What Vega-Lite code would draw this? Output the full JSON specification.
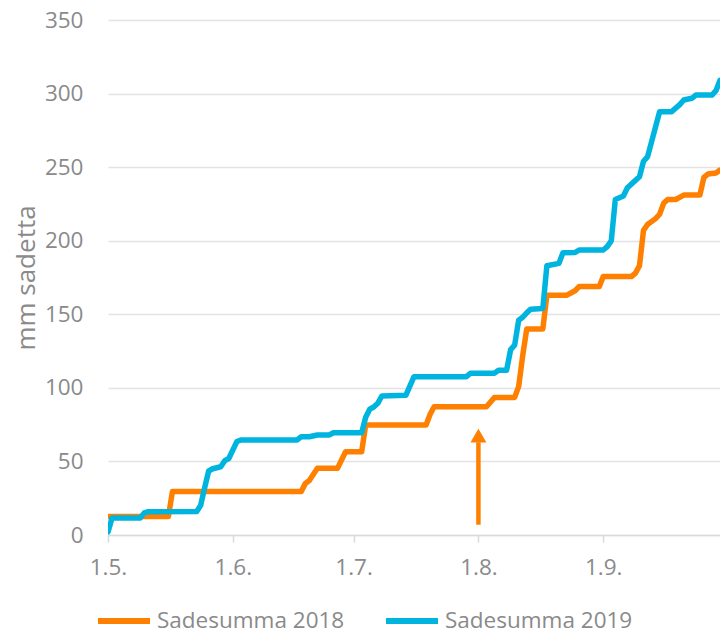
{
  "$schema": "https://vega.github.io/schema/vega-lite/v6.json",
  "width": 612,
  "height": 515,
  "autosize": {"type": "none"},
  "padding": {"left": 108, "top": 20, "right": 0, "bottom": 101},
  "background": "white",
  "config": {
    "font": "Open Sans",
    "view": {"stroke": null}
  },
  "datasets": {
    "sade": [
      {"pvm": "2019-05-01T00:00", "mm": 12.5, "sarja": "Sadesumma 2018"},
      {"pvm": "2019-05-16T00:00", "mm": 12.5, "sarja": "Sadesumma 2018"},
      {"pvm": "2019-05-17T00:00", "mm": 29.5, "sarja": "Sadesumma 2018"},
      {"pvm": "2019-06-18T00:00", "mm": 29.5, "sarja": "Sadesumma 2018"},
      {"pvm": "2019-06-19T00:00", "mm": 35, "sarja": "Sadesumma 2018"},
      {"pvm": "2019-06-20T00:00", "mm": 37, "sarja": "Sadesumma 2018"},
      {"pvm": "2019-06-22T00:00", "mm": 45.3, "sarja": "Sadesumma 2018"},
      {"pvm": "2019-06-27T00:00", "mm": 45.3, "sarja": "Sadesumma 2018"},
      {"pvm": "2019-06-29T00:00", "mm": 56.6, "sarja": "Sadesumma 2018"},
      {"pvm": "2019-07-03T00:00", "mm": 56.6, "sarja": "Sadesumma 2018"},
      {"pvm": "2019-07-04T00:00", "mm": 74.8, "sarja": "Sadesumma 2018"},
      {"pvm": "2019-07-19T00:00", "mm": 74.8, "sarja": "Sadesumma 2018"},
      {"pvm": "2019-07-20T00:00", "mm": 82, "sarja": "Sadesumma 2018"},
      {"pvm": "2019-07-21T00:00", "mm": 87.2, "sarja": "Sadesumma 2018"},
      {"pvm": "2019-08-03T00:00", "mm": 87.2, "sarja": "Sadesumma 2018"},
      {"pvm": "2019-08-05T00:00", "mm": 93.5, "sarja": "Sadesumma 2018"},
      {"pvm": "2019-08-10T00:00", "mm": 93.5, "sarja": "Sadesumma 2018"},
      {"pvm": "2019-08-11T00:00", "mm": 101, "sarja": "Sadesumma 2018"},
      {"pvm": "2019-08-12T00:00", "mm": 122, "sarja": "Sadesumma 2018"},
      {"pvm": "2019-08-13T00:00", "mm": 140, "sarja": "Sadesumma 2018"},
      {"pvm": "2019-08-17T00:00", "mm": 140, "sarja": "Sadesumma 2018"},
      {"pvm": "2019-08-18T00:00", "mm": 163, "sarja": "Sadesumma 2018"},
      {"pvm": "2019-08-23T00:00", "mm": 163, "sarja": "Sadesumma 2018"},
      {"pvm": "2019-08-25T00:00", "mm": 166, "sarja": "Sadesumma 2018"},
      {"pvm": "2019-08-26T00:00", "mm": 168.8, "sarja": "Sadesumma 2018"},
      {"pvm": "2019-08-31T00:00", "mm": 168.8, "sarja": "Sadesumma 2018"},
      {"pvm": "2019-09-01T00:00", "mm": 175.6, "sarja": "Sadesumma 2018"},
      {"pvm": "2019-09-08T00:00", "mm": 175.6, "sarja": "Sadesumma 2018"},
      {"pvm": "2019-09-09T00:00", "mm": 178, "sarja": "Sadesumma 2018"},
      {"pvm": "2019-09-10T00:00", "mm": 183, "sarja": "Sadesumma 2018"},
      {"pvm": "2019-09-11T00:00", "mm": 207, "sarja": "Sadesumma 2018"},
      {"pvm": "2019-09-12T00:00", "mm": 211, "sarja": "Sadesumma 2018"},
      {"pvm": "2019-09-14T00:00", "mm": 215, "sarja": "Sadesumma 2018"},
      {"pvm": "2019-09-15T00:00", "mm": 218, "sarja": "Sadesumma 2018"},
      {"pvm": "2019-09-16T00:00", "mm": 225.4, "sarja": "Sadesumma 2018"},
      {"pvm": "2019-09-17T00:00", "mm": 228, "sarja": "Sadesumma 2018"},
      {"pvm": "2019-09-19T00:00", "mm": 228, "sarja": "Sadesumma 2018"},
      {"pvm": "2019-09-21T00:00", "mm": 231, "sarja": "Sadesumma 2018"},
      {"pvm": "2019-09-25T00:00", "mm": 231, "sarja": "Sadesumma 2018"},
      {"pvm": "2019-09-26T00:00", "mm": 243, "sarja": "Sadesumma 2018"},
      {"pvm": "2019-09-27T00:00", "mm": 245.3, "sarja": "Sadesumma 2018"},
      {"pvm": "2019-09-29T00:00", "mm": 246, "sarja": "Sadesumma 2018"},
      {"pvm": "2019-09-30T00:00", "mm": 248, "sarja": "Sadesumma 2018"},
      {"pvm": "2019-05-01T00:00", "mm": 2, "sarja": "Sadesumma 2019"},
      {"pvm": "2019-05-02T00:00", "mm": 11.5, "sarja": "Sadesumma 2019"},
      {"pvm": "2019-05-09T00:00", "mm": 11.5, "sarja": "Sadesumma 2019"},
      {"pvm": "2019-05-10T00:00", "mm": 15, "sarja": "Sadesumma 2019"},
      {"pvm": "2019-05-11T00:00", "mm": 15.8, "sarja": "Sadesumma 2019"},
      {"pvm": "2019-05-23T00:00", "mm": 15.9, "sarja": "Sadesumma 2019"},
      {"pvm": "2019-05-24T00:00", "mm": 20, "sarja": "Sadesumma 2019"},
      {"pvm": "2019-05-25T00:00", "mm": 32, "sarja": "Sadesumma 2019"},
      {"pvm": "2019-05-26T00:00", "mm": 43.5, "sarja": "Sadesumma 2019"},
      {"pvm": "2019-05-27T00:00", "mm": 45, "sarja": "Sadesumma 2019"},
      {"pvm": "2019-05-29T00:00", "mm": 46.4, "sarja": "Sadesumma 2019"},
      {"pvm": "2019-05-30T00:00", "mm": 50.5, "sarja": "Sadesumma 2019"},
      {"pvm": "2019-05-31T00:00", "mm": 52, "sarja": "Sadesumma 2019"},
      {"pvm": "2019-06-02T00:00", "mm": 63.5, "sarja": "Sadesumma 2019"},
      {"pvm": "2019-06-03T00:00", "mm": 64.6, "sarja": "Sadesumma 2019"},
      {"pvm": "2019-06-17T00:00", "mm": 64.6, "sarja": "Sadesumma 2019"},
      {"pvm": "2019-06-18T00:00", "mm": 66.8, "sarja": "Sadesumma 2019"},
      {"pvm": "2019-06-20T00:00", "mm": 66.8, "sarja": "Sadesumma 2019"},
      {"pvm": "2019-06-22T00:00", "mm": 68, "sarja": "Sadesumma 2019"},
      {"pvm": "2019-06-25T00:00", "mm": 68, "sarja": "Sadesumma 2019"},
      {"pvm": "2019-06-26T00:00", "mm": 69.5, "sarja": "Sadesumma 2019"},
      {"pvm": "2019-07-03T00:00", "mm": 69.5, "sarja": "Sadesumma 2019"},
      {"pvm": "2019-07-04T00:00", "mm": 80, "sarja": "Sadesumma 2019"},
      {"pvm": "2019-07-05T00:00", "mm": 85.5, "sarja": "Sadesumma 2019"},
      {"pvm": "2019-07-06T00:00", "mm": 87, "sarja": "Sadesumma 2019"},
      {"pvm": "2019-07-07T00:00", "mm": 89.5, "sarja": "Sadesumma 2019"},
      {"pvm": "2019-07-08T00:00", "mm": 94.5, "sarja": "Sadesumma 2019"},
      {"pvm": "2019-07-14T00:00", "mm": 95, "sarja": "Sadesumma 2019"},
      {"pvm": "2019-07-16T00:00", "mm": 107.6, "sarja": "Sadesumma 2019"},
      {"pvm": "2019-07-29T00:00", "mm": 107.6, "sarja": "Sadesumma 2019"},
      {"pvm": "2019-07-30T00:00", "mm": 109.9, "sarja": "Sadesumma 2019"},
      {"pvm": "2019-08-05T00:00", "mm": 110, "sarja": "Sadesumma 2019"},
      {"pvm": "2019-08-06T00:00", "mm": 112, "sarja": "Sadesumma 2019"},
      {"pvm": "2019-08-08T00:00", "mm": 112, "sarja": "Sadesumma 2019"},
      {"pvm": "2019-08-09T00:00", "mm": 126, "sarja": "Sadesumma 2019"},
      {"pvm": "2019-08-10T00:00", "mm": 129, "sarja": "Sadesumma 2019"},
      {"pvm": "2019-08-11T00:00", "mm": 146, "sarja": "Sadesumma 2019"},
      {"pvm": "2019-08-12T00:00", "mm": 148, "sarja": "Sadesumma 2019"},
      {"pvm": "2019-08-13T00:00", "mm": 151, "sarja": "Sadesumma 2019"},
      {"pvm": "2019-08-14T00:00", "mm": 153.5, "sarja": "Sadesumma 2019"},
      {"pvm": "2019-08-17T00:00", "mm": 154, "sarja": "Sadesumma 2019"},
      {"pvm": "2019-08-18T00:00", "mm": 183, "sarja": "Sadesumma 2019"},
      {"pvm": "2019-08-21T00:00", "mm": 184.6, "sarja": "Sadesumma 2019"},
      {"pvm": "2019-08-22T00:00", "mm": 191.9, "sarja": "Sadesumma 2019"},
      {"pvm": "2019-08-25T00:00", "mm": 192, "sarja": "Sadesumma 2019"},
      {"pvm": "2019-08-26T00:00", "mm": 193.7, "sarja": "Sadesumma 2019"},
      {"pvm": "2019-09-01T00:00", "mm": 193.7, "sarja": "Sadesumma 2019"},
      {"pvm": "2019-09-02T00:00", "mm": 196, "sarja": "Sadesumma 2019"},
      {"pvm": "2019-09-03T00:00", "mm": 200, "sarja": "Sadesumma 2019"},
      {"pvm": "2019-09-04T00:00", "mm": 228, "sarja": "Sadesumma 2019"},
      {"pvm": "2019-09-06T00:00", "mm": 230.4, "sarja": "Sadesumma 2019"},
      {"pvm": "2019-09-07T00:00", "mm": 236, "sarja": "Sadesumma 2019"},
      {"pvm": "2019-09-09T00:00", "mm": 241, "sarja": "Sadesumma 2019"},
      {"pvm": "2019-09-10T00:00", "mm": 243.5, "sarja": "Sadesumma 2019"},
      {"pvm": "2019-09-11T00:00", "mm": 254, "sarja": "Sadesumma 2019"},
      {"pvm": "2019-09-12T00:00", "mm": 257, "sarja": "Sadesumma 2019"},
      {"pvm": "2019-09-15T00:00", "mm": 287.7, "sarja": "Sadesumma 2019"},
      {"pvm": "2019-09-18T00:00", "mm": 287.7, "sarja": "Sadesumma 2019"},
      {"pvm": "2019-09-20T00:00", "mm": 292.5, "sarja": "Sadesumma 2019"},
      {"pvm": "2019-09-21T00:00", "mm": 295.6, "sarja": "Sadesumma 2019"},
      {"pvm": "2019-09-23T00:00", "mm": 296.8, "sarja": "Sadesumma 2019"},
      {"pvm": "2019-09-24T00:00", "mm": 299, "sarja": "Sadesumma 2019"},
      {"pvm": "2019-09-28T00:00", "mm": 299, "sarja": "Sadesumma 2019"},
      {"pvm": "2019-09-29T00:00", "mm": 302, "sarja": "Sadesumma 2019"},
      {"pvm": "2019-09-30T00:00", "mm": 309, "sarja": "Sadesumma 2019"}
    ],
    "nuoli": [
      {"pvm": "2019-08-01T00:00", "ala": 7, "yla": 63, "karki": 67.5}
    ]
  },
  "layer": [
    {
      "data": {"name": "sade"},
      "mark": {"type": "line", "strokeWidth": 5.5, "strokeJoin": "round", "strokeCap": "round", "clip": true},
      "encoding": {
        "x": {
          "field": "pvm",
          "type": "temporal",
          "scale": {"domain": [{"year": 2019, "month": 5, "date": 1}, {"year": 2019, "month": 9, "date": 30}]},
          "axis": {
            "title": null,
            "format": "%-d.%-m.",
            "values": [
              {"year": 2019, "month": 5, "date": 1},
              {"year": 2019, "month": 6, "date": 1},
              {"year": 2019, "month": 7, "date": 1},
              {"year": 2019, "month": 8, "date": 1},
              {"year": 2019, "month": 9, "date": 1}
            ],
            "labelFlush": false,
            "labelFontSize": 22.5,
            "labelColor": "#8a8a8a",
            "labelPadding": 14,
            "ticks": true,
            "tickSize": 7,
            "tickColor": "#d9d9d9",
            "tickWidth": 1.5,
            "domainColor": "#d9d9d9",
            "domainWidth": 1.5,
            "grid": false
          }
        },
        "y": {
          "field": "mm",
          "type": "quantitative",
          "scale": {"domain": [0, 350], "nice": false},
          "axis": {
            "title": "mm sadetta",
            "titleFontSize": 26,
            "titleFontWeight": "normal",
            "titleColor": "#8a8a8a",
            "titlePadding": 5,
            "values": [0, 50, 100, 150, 200, 250, 300, 350],
            "labelFontSize": 22.5,
            "labelColor": "#8a8a8a",
            "labelPadding": 25,
            "ticks": false,
            "domain": false,
            "grid": true,
            "gridColor": "#e3e3e3",
            "gridWidth": 1.5
          }
        },
        "color": {
          "field": "sarja",
          "type": "nominal",
          "scale": {"domain": ["Sadesumma 2018", "Sadesumma 2019"], "range": ["#FF8000", "#00B4E0"]},
          "legend": {
            "title": null,
            "orient": "none",
            "direction": "horizontal",
            "legendX": -13,
            "legendY": 572,
            "symbolType": "stroke",
            "symbolSize": 2704,
            "symbolStrokeWidth": 6,
            "labelFontSize": 22.5,
            "labelLimit": 0,
            "labelColor": "#8a8a8a",
            "labelOffset": 4,
            "columnPadding": 29
          }
        }
      }
    },
    {
      "data": {"name": "nuoli"},
      "mark": {"type": "rule", "color": "#FF8000", "strokeWidth": 4.5},
      "encoding": {
        "x": {"field": "pvm", "type": "temporal"},
        "y": {"field": "ala", "type": "quantitative"},
        "y2": {"field": "yla"}
      }
    },
    {
      "data": {"name": "nuoli"},
      "mark": {"type": "point", "shape": "triangle-up", "filled": true, "color": "#FF8000", "size": 256, "opacity": 1},
      "encoding": {
        "x": {"field": "pvm", "type": "temporal"},
        "y": {"field": "karki", "type": "quantitative"}
      }
    }
  ]
}
